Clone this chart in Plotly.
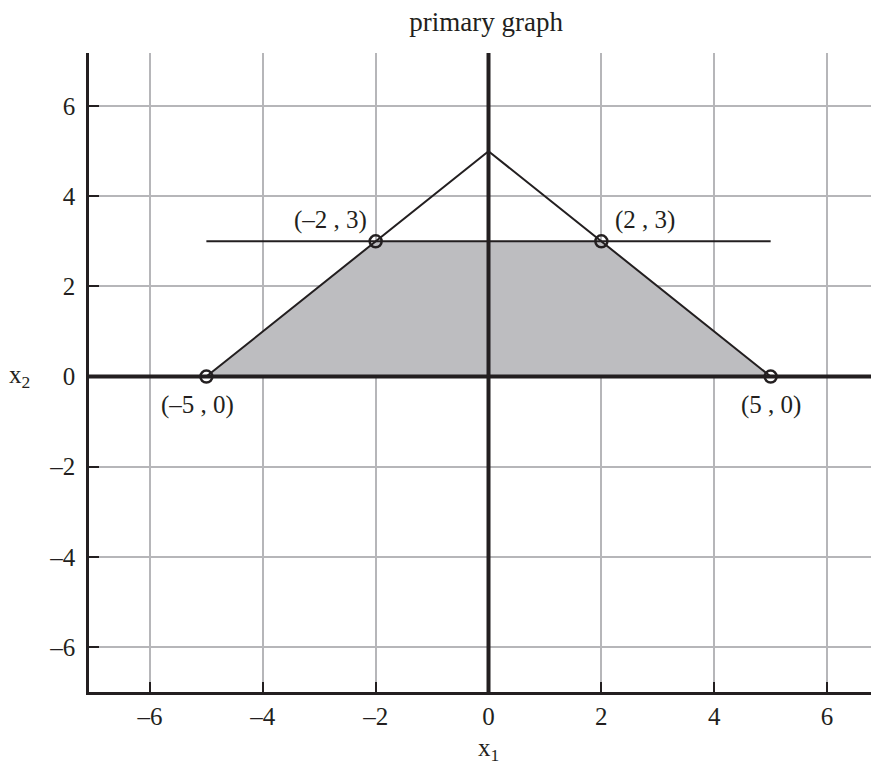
import plotly.graph_objects as go

# feasible region vertices (shaded)
region_x = [-5, -2, 2, 5]
region_y = [0, 3, 3, 0]

# constraint lines
tri_x = [-5, 0, 5]
tri_y = [0, 5, 0]
hline_x = [-5, 5]
hline_y = [3, 3]

# corner points with labels
pt_x = [-2, 2, -5, 5]
pt_y = [3, 3, 0, 0]
pt_labels = ["(–2 , 3)", "(2 , 3)", "(–5 , 0)", "(5 , 0)"]

tick_vals = [-6, -4, -2, 0, 2, 4, 6]
tick_text = ["–6", "–4", "–2", "0", "2", "4", "6"]

X_RANGE = [-7.08, 6.92]
Y_RANGE = [-7.0, 7.18]

ink = "#231f20"
serif = "Liberation Serif, Times New Roman, serif"
font = dict(family=serif, size=25, color=ink)

fig = go.Figure()

fig.add_trace(go.Scatter(x=region_x + [region_x[0]], y=region_y + [region_y[0]],
                         fill="toself", fillcolor="#bdbdc0", mode="none",
                         hoverinfo="skip"))

# thick coordinate axes
fig.add_trace(go.Scatter(x=X_RANGE, y=[0, 0], mode="lines",
                         line=dict(color=ink, width=4), hoverinfo="skip"))
fig.add_trace(go.Scatter(x=[0, 0], y=Y_RANGE, mode="lines",
                         line=dict(color=ink, width=4), hoverinfo="skip"))

fig.add_trace(go.Scatter(x=tri_x, y=tri_y, mode="lines",
                         line=dict(color=ink, width=2)))
fig.add_trace(go.Scatter(x=hline_x, y=hline_y, mode="lines",
                         line=dict(color=ink, width=2)))

fig.add_trace(go.Scatter(x=pt_x, y=pt_y, mode="markers",
                         marker=dict(symbol="circle-open", size=12,
                                     color=ink, line=dict(width=2.5, color=ink))))

# point labels (pixel offsets from the point)
offsets = [(-45, 21), (44, 21), (-9, -28), (0, -28)]
for x, y, t, (dx, dy) in zip(pt_x, pt_y, pt_labels, offsets):
    fig.add_annotation(x=x, y=y, text=t, showarrow=False, xshift=dx,
                       yshift=dy, font=font)

# axis names
fig.add_annotation(x=-0.0886, xref="paper", y=0, yref="y", text="x<sub>2</sub>",
                   showarrow=False, font=font, xanchor="center", yanchor="middle")
fig.add_annotation(x=0, xref="x", y=-0.09, yref="paper", text="x<sub>1</sub>",
                   showarrow=False, font=font, xanchor="center", yanchor="middle")

fig.update_layout(
    width=871, height=763,
    plot_bgcolor="white", paper_bgcolor="white",
    showlegend=False,
    margin=dict(l=81, r=0, t=45, b=79),
    font=font,
    title=dict(text="primary graph", x=0.549, xanchor="center",
               y=0.9817, yanchor="middle", font=dict(size=27, family=serif, color=ink)),
)
fig.update_xaxes(range=X_RANGE, tickvals=tick_vals, ticktext=tick_text,
                 showgrid=True, gridcolor="#b6b6b9", gridwidth=1.5,
                 zeroline=False, showline=True, linecolor=ink, linewidth=2.5,
                 ticks="inside", ticklen=10, tickcolor=ink, tickwidth=1.5,
                 ticklabelstandoff=0, fixedrange=True)
fig.update_yaxes(range=Y_RANGE, tickvals=tick_vals, ticktext=tick_text,
                 showgrid=True, gridcolor="#b6b6b9", gridwidth=1.5,
                 zeroline=False, showline=True, linecolor=ink, linewidth=2.5,
                 ticks="inside", ticklen=10, tickcolor=ink, tickwidth=1.5,
                 ticklabelstandoff=6, fixedrange=True)

fig.write_html("out.html")
